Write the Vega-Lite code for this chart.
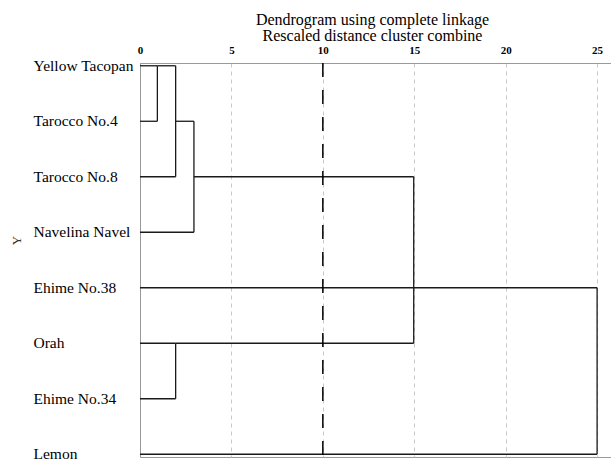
{
  "$schema": "https://vega.github.io/schema/vega-lite/v6.json",
  "width": 471,
  "height": 394,
  "autosize": "none",
  "padding": {"left": 140, "top": 63, "right": 0, "bottom": 4},
  "background": "white",
  "config": {"view": {"stroke": "#999999", "strokeWidth": 1}},
  "title": {
    "text": ["Dendrogram using complete linkage", "Rescaled distance cluster combine"],
    "frame": "group",
    "anchor": "middle",
    "font": "Liberation Serif",
    "fontSize": 16,
    "fontWeight": "normal",
    "color": "#000000",
    "lineHeight": 16,
    "offset": 0,
    "dx": -3
  },
  "datasets": {
    "segments": [
      {"x": 0, "x2": 0.95, "y": "Yellow Tacopan", "y2": "Yellow Tacopan"},
      {"x": 0.95, "x2": 0.95, "y": "Yellow Tacopan", "y2": "Tarocco No.4"},
      {"x": 0, "x2": 0.95, "y": "Tarocco No.4", "y2": "Tarocco No.4"},
      {"x": 0.95, "x2": 1.95, "y": "Yellow Tacopan", "y2": "Yellow Tacopan"},
      {"x": 1.95, "x2": 1.95, "y": "Yellow Tacopan", "y2": "Tarocco No.8"},
      {"x": 0, "x2": 1.95, "y": "Tarocco No.8", "y2": "Tarocco No.8"},
      {"x": 1.95, "x2": 2.95, "y": "Tarocco No.4", "y2": "Tarocco No.4"},
      {"x": 2.95, "x2": 2.95, "y": "Tarocco No.4", "y2": "Navelina Navel"},
      {"x": 0, "x2": 2.95, "y": "Navelina Navel", "y2": "Navelina Navel"},
      {"x": 2.95, "x2": 14.97, "y": "Tarocco No.8", "y2": "Tarocco No.8"},
      {"x": 14.97, "x2": 14.97, "y": "Tarocco No.8", "y2": "Orah"},
      {"x": 0, "x2": 1.95, "y": "Orah", "y2": "Orah"},
      {"x": 1.95, "x2": 1.95, "y": "Orah", "y2": "Ehime No.34"},
      {"x": 0, "x2": 1.95, "y": "Ehime No.34", "y2": "Ehime No.34"},
      {"x": 1.95, "x2": 14.97, "y": "Orah", "y2": "Orah"},
      {"x": 0, "x2": 25, "y": "Ehime No.38", "y2": "Ehime No.38"},
      {"x": 25, "x2": 25, "y": "Ehime No.38", "y2": "Lemon"},
      {"x": 0, "x2": 25, "y": "Lemon", "y2": "Lemon"}
    ],
    "cutoff": [{"x": 10}]
  },
  "layer": [
    {
      "data": {"name": "segments"},
      "mark": {"type": "rule", "color": "#1a1a1a", "strokeWidth": 1.3},
      "encoding": {
        "x": {
          "field": "x",
          "type": "quantitative",
          "scale": {"domain": [0, 25.76], "nice": false, "zero": false},
          "axis": {
            "orient": "top",
            "title": null,
            "values": [0, 5, 10, 15, 20, 25],
            "ticks": false,
            "labelFont": "Liberation Serif",
            "labelFontWeight": "bold",
            "labelFontSize": 11,
            "labelColor": "#000000",
            "labelPadding": 8,
            "labelFlush": false,
            "domainColor": "#999999",
            "domainWidth": 1,
            "grid": true,
            "gridColor": "#c8c8c8",
            "gridDash": [4, 4],
            "gridWidth": 1
          }
        },
        "x2": {"field": "x2"},
        "y": {
          "field": "y",
          "type": "nominal",
          "scale": {
            "type": "point",
            "padding": 0.05,
            "domain": ["Yellow Tacopan", "Tarocco No.4", "Tarocco No.8", "Navelina Navel", "Ehime No.38", "Orah", "Ehime No.34", "Lemon"]
          },
          "axis": {
            "title": "Y",
            "titleFont": "Liberation Serif",
            "titleFontSize": 13,
            "titleFontWeight": "normal",
            "titleColor": "#333333",
            "titleX": -124,
            "titleY": 177,
            "titleAlign": "center",
            "titleBaseline": "middle",
            "titleAngle": -90,
            "ticks": false,
            "grid": false,
            "domainColor": "#999999",
            "domainWidth": 1,
            "labelAlign": "left",
            "labelPadding": 107,
            "labelFont": "Liberation Serif",
            "labelFontSize": 15.5,
            "labelColor": "#000000",
            "labelBaseline": "alphabetic",
            "labelOffset": 4.5,
            "labelLimit": 200
          }
        },
        "y2": {"field": "y2"}
      }
    },
    {
      "data": {"name": "cutoff"},
      "mark": {"type": "rule", "color": "#000000", "strokeWidth": 1.5, "strokeDash": [14, 13]},
      "encoding": {
        "x": {"field": "x", "type": "quantitative"}
      }
    }
  ]
}
